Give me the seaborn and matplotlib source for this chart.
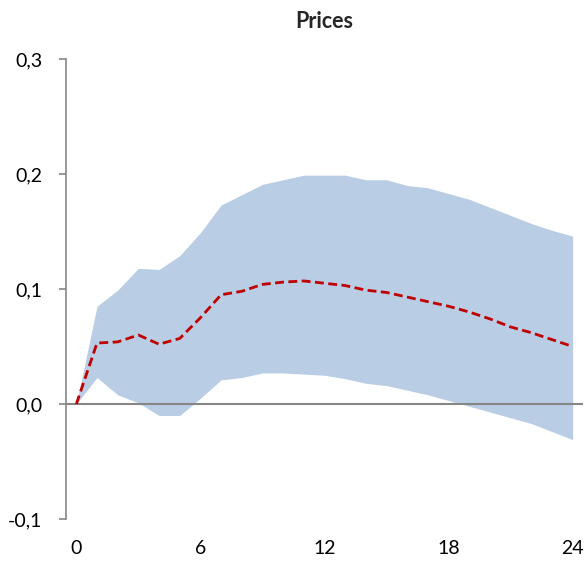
import numpy as np
import pandas as pd
import matplotlib
matplotlib.use("Agg")
import matplotlib.pyplot as plt
import seaborn as sns
from matplotlib.ticker import FuncFormatter, FixedLocator

# Impulse response of prices: horizon, point estimate and confidence band
horizon = list(range(25))
response = [0.000, 0.053, 0.054, 0.060, 0.052, 0.057, 0.075, 0.095, 0.098, 0.104,
            0.106, 0.107, 0.105, 0.103, 0.099, 0.097, 0.093, 0.089, 0.085, 0.080,
            0.074, 0.067, 0.062, 0.056, 0.050]
upper = [0.000, 0.085, 0.099, 0.118, 0.117, 0.129, 0.149, 0.173, 0.182, 0.191,
         0.195, 0.199, 0.199, 0.199, 0.195, 0.195, 0.190, 0.188, 0.183, 0.178,
         0.171, 0.164, 0.157, 0.151, 0.146]
lower = [0.000, 0.023, 0.008, 0.001, -0.010, -0.010, 0.005, 0.021, 0.023, 0.027,
         0.027, 0.026, 0.025, 0.022, 0.018, 0.016, 0.012, 0.008, 0.003, -0.002,
         -0.007, -0.012, -0.017, -0.024, -0.031]
x_ticks = [0, 6, 12, 18, 24]
y_ticks = [-0.1, 0.0, 0.1, 0.2, 0.3]
title = "Prices"

df = pd.DataFrame({"h": horizon, "irf": response, "lo": lower, "hi": upper})

sns.set_style("white")
plt.rcParams["font.family"] = ["Lato", "DejaVu Sans"]

W, H = 586, 561
fig = plt.figure(figsize=(W / 100, H / 100), dpi=100)
ax = fig.add_axes([66 / W, 1 - 519 / H, (583 - 66) / W, (519 - 59) / H])

ax.fill_between(df["h"], df["lo"], df["hi"], color="#B9CDE5", linewidth=0, zorder=1)
ax.axhline(0, color="#868686", linewidth=1.5, zorder=2)
sns.lineplot(data=df, x="h", y="irf", ax=ax, color="#C00000", linewidth=2.0,
             linestyle=(0, (3.2, 1.6)), zorder=3)

ax.set_xlim(-0.5, 24.5)
ax.set_ylim(-0.1, 0.3)
ax.xaxis.set_major_locator(FixedLocator(x_ticks))
ax.yaxis.set_major_locator(FixedLocator(y_ticks))
ax.yaxis.set_major_formatter(FuncFormatter(lambda v, p: f"{v:.1f}".replace(".", ",")))
ax.set_xlabel("")
ax.set_ylabel("")

for s in ["top", "right", "bottom"]:
    ax.spines[s].set_visible(False)
ax.spines["left"].set_color("#868686")
ax.spines["left"].set_linewidth(1.2)

ax.tick_params(axis="y", which="major", left=True, length=5, width=1.2,
               color="#868686", pad=12, labelsize=14, labelcolor="black")
ax.tick_params(axis="x", which="major", bottom=False, length=0, pad=15,
               labelsize=14, labelcolor="black")

ax.set_title(title, fontsize=15.5, fontweight="bold", pad=22)

fig.savefig("out.png", dpi=100)
